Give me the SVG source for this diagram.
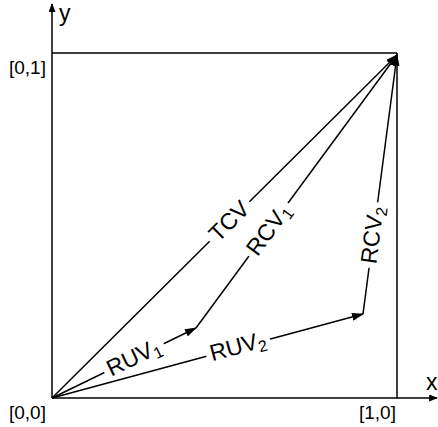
<svg xmlns="http://www.w3.org/2000/svg" width="438" height="427" viewBox="0 0 438 427">
<style>
.ln{stroke:#000;stroke-width:1.5;fill:none}
.vec{stroke:#000;stroke-width:1.5;fill:none;marker-end:url(#ah)}
.ax{stroke:#000;stroke-width:1.5;fill:none;marker-end:url(#axh)}
text{font-family:"Liberation Sans",Arial,sans-serif;fill:#000}
.lbl{font-size:23px;text-anchor:middle}
.bg{fill:#fff}
.tick{font-size:19px}
.sub{font-size:16px}
</style>
<defs>
<marker id="ah" viewBox="0 0 12 8" refX="11" refY="4" markerWidth="12" markerHeight="8" markerUnits="userSpaceOnUse" orient="auto">
<path d="M0,0 L12,4 L0,8 Z" fill="#000"/>
</marker>
<marker id="axh" viewBox="0 0 10 8" refX="9" refY="4" markerWidth="9" markerHeight="7" markerUnits="userSpaceOnUse" orient="auto">
<path d="M0,0 L10,4 L0,8 Z" fill="#000"/>
</marker>
</defs>
<g id="axes">
<line class="ax" x1="52" y1="398" x2="52" y2="4"/>
<line class="ax" x1="52" y1="398" x2="437" y2="398"/>
<text x="59" y="21" font-size="23">y</text>
<text x="426" y="390" font-size="23">x</text>
</g>
<g id="box">
<line class="ln" x1="52" y1="53" x2="397" y2="53"/>
<line class="ln" x1="397" y1="53" x2="397" y2="398"/>
</g>
<g id="ticks">
<text class="tick" x="9" y="74">[0,1]</text>
<text class="tick" x="9" y="419">[0,0]</text>
<text class="tick" x="359" y="419">[1,0]</text>
</g>
<g id="connectors">
<line class="vec" x1="52" y1="398" x2="397" y2="55"/>
<line class="vec" x1="52" y1="398" x2="196" y2="328"/>
<line class="vec" x1="196" y1="328" x2="397" y2="55"/>
<line class="vec" x1="52" y1="398" x2="363" y2="314"/>
<line class="vec" x1="363" y1="314" x2="397" y2="55"/>
</g>
<g id="labels">
<g transform="translate(229,221) rotate(-44.8)"><rect class="bg" x="-28" y="-6" width="56" height="12"/><text class="lbl" y="8">TCV</text></g>
<g transform="translate(269,230) rotate(-53.6)"><rect class="bg" x="-33" y="-6" width="66" height="12"/><text class="lbl" y="7">RCV<tspan class="sub" dy="4">1</tspan></text></g>
<g transform="translate(373,235) rotate(-82.5)"><rect class="bg" x="-33" y="-6" width="66" height="12"/><text class="lbl" y="7">RCV<tspan class="sub" dy="4">2</tspan></text></g>
<g transform="translate(134,358) rotate(-25.8)"><rect class="bg" x="-33" y="-6" width="66" height="12"/><text class="lbl" y="7">RUV<tspan class="sub" dy="4">1</tspan></text></g>
<g transform="translate(238,347) rotate(-15.3)"><rect class="bg" x="-33" y="-6" width="66" height="12"/><text class="lbl" y="7">RUV<tspan class="sub" dy="4">2</tspan></text></g>
</g>
</svg>
